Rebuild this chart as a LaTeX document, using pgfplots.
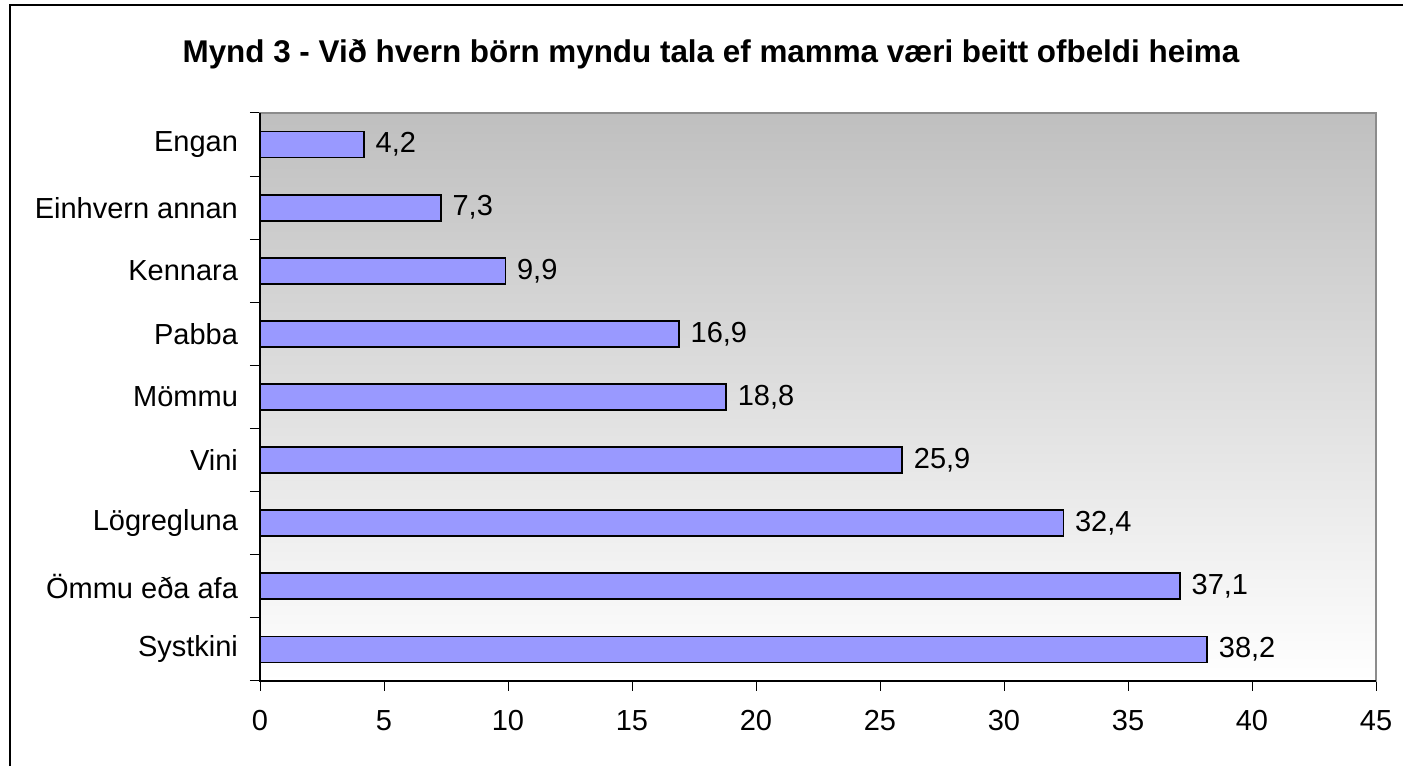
\documentclass[border=0pt]{standalone}
\usepackage{pgfplots}
\pgfplotsset{compat=1.18}
\usepackage{fontspec}
\setmainfont{Liberation Sans}
\definecolor{barblue}{HTML}{9999FF}
\definecolor{axgray}{HTML}{8C8C8C}
\begin{document}
\begin{tikzpicture}
\useasboundingbox (0,0) rectangle (701.5pt,383pt);
\draw[black, line width=0.6pt] (5pt,0) -- (5pt,380.5pt) -- (701.5pt,380.5pt);
\node[font=\fontsize{15.7}{19}\selectfont\bfseries] at (355.5pt,356pt) {Mynd 3 - Við hvern börn myndu tala ef mamma væri beitt ofbeldi heima};
\begin{axis}[
  at={(130pt,42.5pt)}, anchor=south west,
  scale only axis, width=558pt, height=284pt,
  xmin=0, xmax=45, ymin=-0.5, ymax=8.5,
  xtick={0,5,...,45},
  ytick={-0.5,0.5,...,8.5}, yticklabels={},
  xtick pos=bottom, ytick pos=left,
  extra y ticks={0,1,2,3,4,5,6,7,8},
  extra y tick labels={Systkini,Ömmu eða afa,Lögregluna,Vini,Mömmu,Pabba,Kennara,Einhvern annan,Engan},
  extra y tick style={major tick length=0pt, yticklabel style={xshift=-7.5pt}},
  tick align=outside, major tick length=5pt,
  tick style={black, line width=0.5pt},
  axis line style={axgray, line width=1pt},
  ticklabel style={font=\fontsize{14.5}{17}\selectfont},
  /pgf/number format/assume math mode=true,
  xticklabel style={yshift=-6pt},
  axis background/.style={shade, top color=black!25, bottom color=white},
  xbar, bar width=13pt,
  nodes near coords,
  nodes near coords style={font=\fontsize{14.5}{17}\selectfont, anchor=west, xshift=2pt,
    /pgf/number format/.cd, use comma, fixed, fixed zerofill, precision=1, assume math mode=true},
  clip=false,
]
\addplot[fill=barblue, draw=black, line width=0.9pt] coordinates {
(38.2,0) (37.1,1) (32.4,2) (25.9,3) (18.8,4) (16.9,5) (9.9,6) (7.3,7) (4.2,8)
};
\draw[black, line width=0.6pt] (rel axis cs:0,1) -- (rel axis cs:0,0) -- (rel axis cs:1,0);
\end{axis}
\end{tikzpicture}
\end{document}
